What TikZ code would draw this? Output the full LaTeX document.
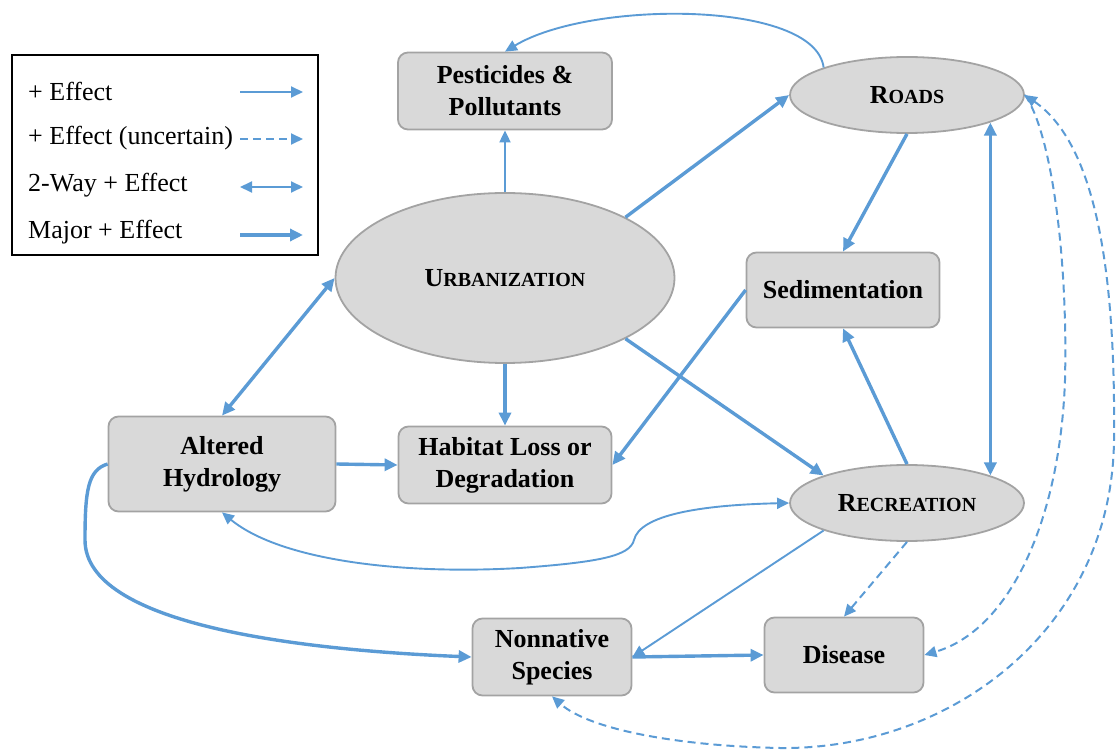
\documentclass[tikz,border=0pt]{standalone}
\usepackage{fontspec}
\setmainfont{Liberation Serif}
\usetikzlibrary{shapes.geometric,arrows.meta}
\definecolor{linkblue}{HTML}{5B9BD5}
\definecolor{nodefill}{HTML}{D9D9D9}
\definecolor{nodeline}{HTML}{A3A3A3}
% fake small caps: full-size initial, reduced capitals after it
\newcommand{\fsc}[2]{{\fontsize{26}{32}\selectfont #1}{\fontsize{20}{32}\selectfont #2}}
\tikzset{
  txt/.style={font=\fontsize{26}{32}\selectfont\bfseries, align=center},
  boxnode/.style={txt, draw=nodeline, fill=nodefill, line width=1.8pt,
    rounded corners=10pt, inner sep=0pt},
  ellnode/.style={txt, ellipse, draw=nodeline, fill=nodefill, line width=1.8pt,
    inner sep=0pt},
  thin link/.style={draw=linkblue, line width=1.9pt,
    -{Triangle[length=12pt,width=11pt]}},
  major link/.style={draw=linkblue, line width=3.4pt,
    -{Triangle[length=13pt,width=12pt]}},
  both thin/.style={draw=linkblue, line width=1.9pt,
    {Triangle[length=12pt,width=11pt]}-{Triangle[length=12pt,width=11pt]}},
  both major/.style={draw=linkblue, line width=3.4pt,
    {Triangle[length=13pt,width=12pt]}-{Triangle[length=13pt,width=12pt]}},
  uncertain/.style={draw=linkblue, line width=2pt, dash pattern=on 8pt off 5pt,
    -{Triangle[length=12pt,width=11pt]}},
  uncertain both/.style={draw=linkblue, line width=2pt, dash pattern=on 8pt off 5pt,
    {Triangle[length=12pt,width=11pt]}-{Triangle[length=12pt,width=11pt]}},
  legtext/.style={anchor=west, font=\fontsize{26}{32}\selectfont, inner sep=0pt},
}
\begin{document}
\begin{tikzpicture}[x=1pt,y=-1pt]
\useasboundingbox (0,0) rectangle (1117,751);

% legend
\node[draw=black, line width=1.8pt, minimum width=306pt, minimum height=200pt,
      inner sep=0pt] (legend) at (165,155) {};
\node[legtext] (l1) at (28,91) {+ Effect};
\node[legtext] (l2) at (28,138) {+ Effect (uncertain)};
\node[legtext] (l3) at (28,185) {2-Way + Effect};
\node[legtext] (l4) at (28,232) {Major + Effect};
\coordinate (l1a) at (240,92);  \coordinate (l1b) at (303,92);
\coordinate (l2a) at (240,139); \coordinate (l2b) at (303,139);
\coordinate (l3a) at (240,187); \coordinate (l3b) at (303,187);
\coordinate (l4a) at (240,235); \coordinate (l4b) at (303,235);
\draw[thin link] (l1a) -- (l1b);
\draw[uncertain] (l2a) -- (l2b);
\draw[both thin] (l3a) -- (l3b);
\draw[major link] (l4a) -- (l4b);

% factors
\node[boxnode, minimum width=214pt, minimum height=77pt] (pest) at (505,91)
  {Pesticides \&\\Pollutants};
\node[ellnode, minimum width=234pt, minimum height=76pt] (roads) at (907,95)
  {\fsc{R}{OADS}};
\node[ellnode, minimum width=339pt, minimum height=170pt] (urban) at (505,278)
  {\fsc{U}{RBANIZATION}};
\node[boxnode, minimum width=193pt, minimum height=75pt] (sed) at (843,290)
  {Sedimentation};
\node[boxnode, minimum width=227pt, minimum height=95pt] (alt) at (222,464)
  {Altered\\Hydrology};
\node[boxnode, minimum width=213pt, minimum height=77pt] (hab) at (505,465)
  {Habitat Loss or\\Degradation};
\node[ellnode, minimum width=234pt, minimum height=76pt] (rec) at (907,503)
  {\fsc{R}{ECREATION}};
\node[boxnode, minimum width=159pt, minimum height=77pt] (non) at (552,657)
  {Nonnative\\Species};
\node[boxnode, minimum width=159pt, minimum height=75pt] (dis) at (844,655)
  {Disease};

% effects
\draw[thin link] (urban.north) -- (pest.south);
\draw[thin link] (roads.north west) .. controls (815,0) and (590,0) .. (pest.north);
\draw[major link] (urban.north east) -- (roads.west);
\draw[major link] (roads.south) -- (sed.north);
\draw[both major] (urban.west) -- (alt.north);
\draw[major link] (urban.south) -- (hab.north);
\draw[major link] (alt.east) -- (hab.west);
\draw[major link] (sed.west) -- (hab.east);
\draw[major link] (urban.south east) -- (rec.north west);
\draw[major link] (rec.north) -- (sed.south);
\draw[both major] (rec.north east) -- (roads.south east);
\draw[both thin] (alt.south) .. controls (280,560) and (400,575) .. (520,568)
  .. controls (600,562) and (630,556) .. (634,540)
  .. controls (640,515) and (700,505) .. (rec.west);
\draw[major link] (alt.west) .. controls (88,470) and (85,490) .. (85,540)
  .. controls (85,625) and (300,650) .. (non.west);
\draw[thin link] (rec.south west) -- (non.east);
\draw[major link] (non.east) -- (dis.west);
\draw[uncertain] (rec.south) -- (dis.north);
\draw[uncertain] (roads.east) .. controls (1050,130) and (1068,250) .. (1065,380)
  .. controls (1060,520) and (1010,630) .. (dis.east);
\draw[uncertain both] (roads.east) .. controls (1090,140) and (1116,250) .. (1114,440)
  .. controls (1112,630) and (950,750) .. (780,748)
  .. controls (680,746) and (590,730) .. (non.south);
\end{tikzpicture}
\end{document}
